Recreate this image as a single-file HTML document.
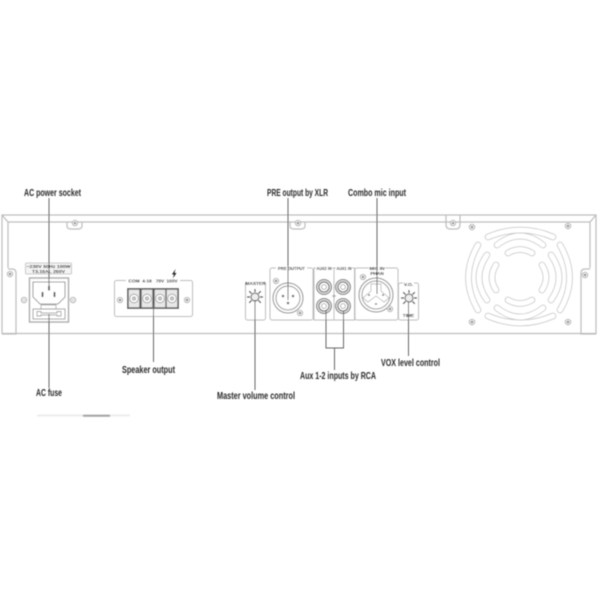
<!DOCTYPE html>
<html>
<head>
<meta charset="utf-8">
<style>
html,body{margin:0;padding:0;background:#fff;width:600px;height:600px;overflow:hidden}
svg{display:block}
text{font-family:"Liberation Sans",sans-serif}
.lab{font-size:10.5px;font-weight:bold;fill:#2b2b2b}
.tiny{font-size:4.8px;font-weight:bold;fill:#222;text-anchor:middle}
</style>
</head>
<body>
<svg width="600" height="600" viewBox="0 0 600 600" xmlns="http://www.w3.org/2000/svg">
<defs>
<filter id="b" x="-5%" y="-5%" width="110%" height="110%"><feGaussianBlur stdDeviation="0.5"/></filter>
<filter id="b2" x="-20%" y="-500%" width="140%" height="1100%"><feGaussianBlur stdDeviation="0.9"/></filter>
<g id="scr"><circle r="2.8" fill="#e4e4e4" stroke="#aaa" stroke-width=".7"/><circle r="1" fill="#777"/></g>
<path id="fanpaths" d="M488 237Q520.500 223 553 237M497 245Q520 227 543 245M508 253Q520 246 532 253M488 316Q520.500 330 553 316M497 308Q520 326 543 308M508 300Q520 307 532 300M478 245Q459 277.500 478 310M487 255Q471 277.500 487 300M496 265Q488 277.500 496 290M560 245Q579 277.500 560 310M551 255Q567 277.500 551 300M542 265Q550 277.500 542 290"/>
<g id="pot" fill="none" stroke="#222" stroke-width="1.200">
<circle r="4" fill="#eee" stroke="#777"/>
<path d="M0 -5V-8M3.500 -3.500L5.800 -5.800M5 0H8M3.500 3.500L5.800 5.800M-3.500 3.500L-5.800 5.800M-5 0H-8M-3.500 -3.500L-5.800 -5.800"/>
</g>
<g id="rca"><circle r="7.500" fill="#ddd" stroke="#777" stroke-width="1"/><circle r="5" fill="#fff" stroke="#666" stroke-width="1"/><circle r="2.400" fill="#fff" stroke="#999" stroke-width=".8"/></g>
<g id="term"><rect x="-5.500" y="-9" width="11" height="18" fill="#e8e8e8" stroke="#777" stroke-width=".5"/><circle r="4.300" fill="#fff" stroke="#999" stroke-width=".8"/><circle r="1.800" fill="#ccc" stroke="#777" stroke-width=".5"/></g>
</defs>

<g filter="url(#b)">
<!-- chassis -->
<g fill="none" stroke="#bdbdbd" stroke-width="1.200">
<path d="M2 333.500V215H596V333.500H2Z"/>
<path d="M2 215L8 222H590L596 215"/>
<path d="M8 222V268M590 222V268"/>
<path d="M2 334H16V273Q16 269 12 269H8"/>
<path d="M596 334H581V273Q581 269 585 269H590"/>
<path d="M67 222V226Q67 229 71 229H78Q82 229 82 226V222"/>
<path d="M290 222V226Q290 229 294 229H301Q305 229 305 226V222"/>
<path d="M446 215V224Q446 229 450 229H456Q460 229 460 224V215"/>
</g>
<use href="#scr" x="75" y="223"/><use href="#scr" x="298" y="223"/><use href="#scr" x="453" y="223"/>
<use href="#scr" x="10" y="274"/><use href="#scr" x="585" y="275"/>

<!-- fan -->
<use href="#fanpaths" fill="none" stroke="#c2c2c2" stroke-width="6.500" stroke-linecap="round"/>
<use href="#fanpaths" fill="none" stroke="#fff" stroke-width="5" stroke-linecap="round"/>
<use href="#scr" x="472" y="227"/><use href="#scr" x="568" y="226"/><use href="#scr" x="472" y="322"/><use href="#scr" x="568" y="322"/>

<!-- AC inlet -->
<rect x="25.500" y="263" width="46" height="11" rx="1" fill="#f4f4f4" stroke="#bbb" stroke-width=".8"/>
<text class="tiny" x="48.500" y="268" textLength="44" lengthAdjust="spacingAndGlyphs">~230V 50Hz 100W</text>
<text class="tiny" x="48.500" y="273" textLength="33" lengthAdjust="spacingAndGlyphs">T3.15AL 250V</text>
<rect x="29.500" y="278" width="39" height="44" fill="#fff" stroke="#aaa" stroke-width="1.400"/>
<path d="M33 282H65V297L58 304H40L33 297Z" fill="#fff" stroke="#777" stroke-width=".8"/>
<rect x="41" y="305" width="15" height="4" fill="#fff" stroke="#999" stroke-width=".7"/>
<rect x="33" y="309" width="32" height="10" fill="#fff" stroke="#888" stroke-width=".8"/>
<path d="M37 311.500H41V313H57V311.500H61V316H57V315H41V316H37Z" fill="#fff" stroke="#888" stroke-width=".7"/>
<rect x="41.500" y="292" width="2" height="5" fill="#666"/>
<rect x="53.500" y="292" width="2" height="5" fill="#666"/>
<rect x="48" y="286" width="2" height="4.500" fill="#666"/>
<circle cx="24" cy="300" r="2.800" fill="#e4e4e4" stroke="#aaa" stroke-width=".7"/>
<circle cx="73" cy="300" r="2.800" fill="#e4e4e4" stroke="#aaa" stroke-width=".7"/>

<!-- Speaker panel -->
<rect x="114.500" y="280.500" width="78" height="36" rx="2" fill="#fff" stroke="#bbb" stroke-width="1"/>
<rect x="126" y="278" width="54" height="5" fill="#fff"/>
<text class="tiny" x="134" y="282.500">COM</text>
<text class="tiny" x="147" y="282.500">4-16</text>
<text class="tiny" x="160" y="282.500">70V</text>
<text class="tiny" x="172" y="282.500">100V</text>
<path d="M175.500 269L172 274.500H174L172.500 279L176.500 273H174.500Z" fill="#222"/>
<rect x="127" y="288" width="52" height="21" fill="#555"/>
<use href="#term" x="134" y="298.500"/><use href="#term" x="147" y="298.500"/><use href="#term" x="160" y="298.500"/><use href="#term" x="172" y="298.500"/>
<use href="#scr" x="120" y="300"/><use href="#scr" x="187" y="300"/>

<!-- Master -->
<rect x="245.500" y="282" width="20" height="38" rx="2" fill="#fff" stroke="#bbb"/>
<rect x="247" y="280" width="17" height="5" fill="#fff"/>
<text class="tiny" x="255.500" y="285">MASTER</text>
<use href="#pot" x="255" y="297"/>

<!-- PRE -->
<rect x="270" y="268" width="43" height="52" rx="2" fill="#fff" stroke="#bbb"/>
<rect x="276" y="266" width="31" height="5" fill="#fff"/>
<text class="tiny" x="291.500" y="270" textLength="27" lengthAdjust="spacingAndGlyphs">PRE OUTPUT</text>
<circle cx="288" cy="298" r="15" fill="#fff" stroke="#888" stroke-width="1"/>
<circle cx="288" cy="298" r="12" fill="#fff" stroke="#999" stroke-width="1"/>
<circle cx="283" cy="296" r="1.300" fill="#777"/><circle cx="293" cy="296" r="1.300" fill="#777"/><circle cx="288" cy="303" r="1.300" fill="#777"/>
<use href="#scr" x="276" y="281"/><use href="#scr" x="300" y="313"/>

<!-- AUX -->
<rect x="314" y="268" width="20" height="52" fill="#fff" stroke="#bbb"/>
<rect x="334" y="268" width="20.500" height="52" fill="#fff" stroke="#bbb"/>
<rect x="316" y="266" width="16" height="5" fill="#fff"/>
<rect x="336" y="266" width="16" height="5" fill="#fff"/>
<text class="tiny" x="324" y="270" textLength="15" lengthAdjust="spacingAndGlyphs">AUX2 IN</text>
<text class="tiny" x="344" y="270" textLength="15" lengthAdjust="spacingAndGlyphs">AUX1 IN</text>
<use href="#rca" x="324" y="287"/><use href="#rca" x="324" y="306"/><use href="#rca" x="343" y="287"/><use href="#rca" x="343" y="306"/>
<path d="M334 294v4M332 296h4" stroke="#888" stroke-width=".8"/>

<!-- MIC -->
<rect x="355" y="268" width="43" height="52" rx="2" fill="#fff" stroke="#bbb"/>
<rect x="369" y="266" width="16" height="5" fill="#fff"/>
<text class="tiny" x="377" y="270">MIC IN</text>
<text class="tiny" x="377" y="275">PHAN</text>
<circle cx="376" cy="295" r="17" fill="#fff" stroke="#888" stroke-width="1"/>
<circle cx="376" cy="295" r="14" fill="#fff" stroke="#999" stroke-width="1"/>
<path d="M371 284H381V291L389 298L384 302L376 296L368 302L363 298L371 291Z" fill="#fff" stroke="#aaa" stroke-width=".7"/>
<circle cx="369" cy="295" r=".9" fill="#555"/><circle cx="383" cy="295" r=".9" fill="#555"/><circle cx="376" cy="304" r=".9" fill="#555"/>
<use href="#scr" x="363" y="277"/><use href="#scr" x="390" y="309"/>

<!-- VO -->
<rect x="398.500" y="283" width="20" height="37" rx="2" fill="#fff" stroke="#bbb"/>
<rect x="403" y="281" width="11" height="5" fill="#fff"/>
<text class="tiny" x="408.500" y="286">V.O.</text>
<use href="#pot" x="409" y="298"/>
<text class="tiny" x="408.500" y="317">TIME</text>

<!-- leaders -->
<g fill="none" stroke="#666" stroke-width="1">
<path d="M49 198V286M49 314V388"/>
<path d="M153.500 304V362"/>
<path d="M288 198V300"/>
<path d="M377 198V294"/>
<path d="M255 300V390"/>
<path d="M326 311V348H343.500V311M334.500 348V370"/>
<path d="M408.500 302V356"/>
</g>

<!-- labels -->
<text class="lab" x="24" y="196" textLength="57" lengthAdjust="spacingAndGlyphs">AC power socket</text>
<text class="lab" x="36" y="396" textLength="26" lengthAdjust="spacingAndGlyphs">AC fuse</text>
<text class="lab" x="122" y="373" textLength="53" lengthAdjust="spacingAndGlyphs">Speaker output</text>
<text class="lab" x="267" y="196" textLength="61" lengthAdjust="spacingAndGlyphs">PRE output by XLR</text>
<text class="lab" x="348" y="196" textLength="58" lengthAdjust="spacingAndGlyphs">Combo mic input</text>
<text class="lab" x="217" y="399" textLength="78" lengthAdjust="spacingAndGlyphs">Master volume control</text>
<text class="lab" x="300" y="379" textLength="76" lengthAdjust="spacingAndGlyphs">Aux 1-2 inputs by RCA</text>
<text class="lab" x="381" y="366" textLength="59" lengthAdjust="spacingAndGlyphs">VOX level control</text>
</g>

<!-- floor shadow -->
<rect x="37" y="415" width="93" height="1" fill="#dcdcdc" filter="url(#b2)"/>
<rect x="83" y="415" width="27" height="1.500" fill="#8a8a8a" filter="url(#b2)"/>
</svg>
</body>
</html>
